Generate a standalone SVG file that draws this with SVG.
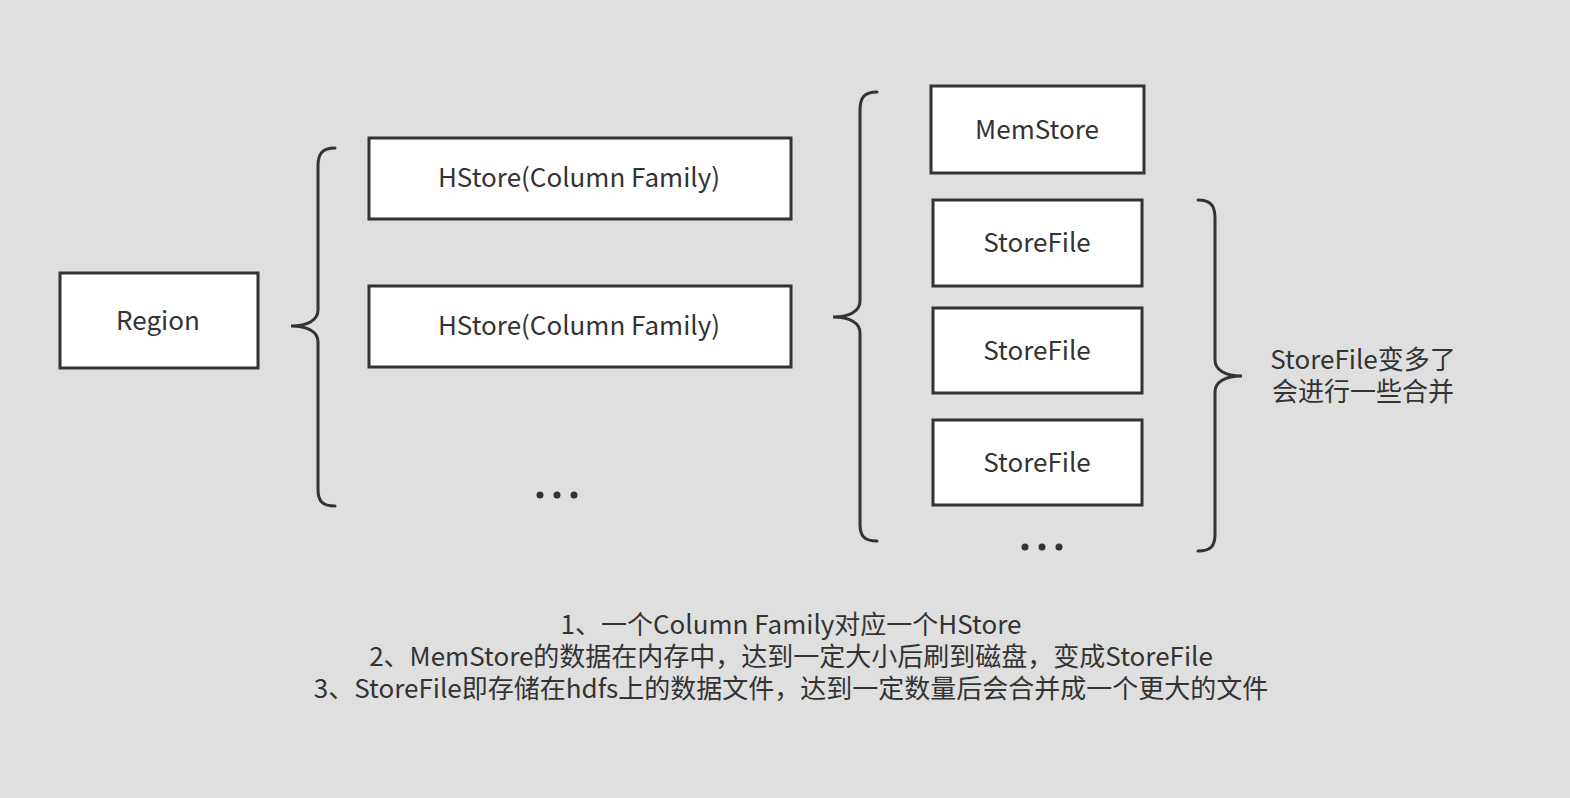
<svg xmlns="http://www.w3.org/2000/svg" width="1570" height="798" viewBox="0 0 1570 798">
<style>
.box{fill:#fff;stroke:#333;stroke-width:3}
.br{fill:none;stroke:#333;stroke-width:3;stroke-linecap:round}
text{font-family:"Noto Sans CJK SC","Noto Sans",sans-serif;fill:#333;font-size:26px;text-anchor:middle}
.dot{fill:#333}
</style>
<rect width="1570" height="798" fill="#dfdfdf"/>
<g id="region"><rect class="box" x="60" y="273" width="198" height="95"/><text x="158" y="330">Region</text></g>
<g id="hstore1"><rect class="box" x="369" y="138" width="422" height="81"/><text x="579" y="187">HStore(Column Family)</text></g>
<g id="hstore2"><rect class="box" x="369" y="286" width="422" height="81"/><text x="579" y="335">HStore(Column Family)</text></g>
<g id="dots1"><circle class="dot" cx="540" cy="495" r="3.5"/><circle class="dot" cx="557" cy="495" r="3.5"/><circle class="dot" cx="574" cy="495" r="3.5"/></g>
<g id="memstore"><rect class="box" x="931" y="86" width="213" height="87"/><text x="1037" y="139">MemStore</text></g>
<g id="storefile1"><rect class="box" x="933" y="200" width="209" height="86"/><text x="1037" y="252">StoreFile</text></g>
<g id="storefile2"><rect class="box" x="933" y="308" width="209" height="85"/><text x="1037" y="360">StoreFile</text></g>
<g id="storefile3"><rect class="box" x="933" y="420" width="209" height="85"/><text x="1037" y="472">StoreFile</text></g>
<g id="dots2"><circle class="dot" cx="1025" cy="547" r="3.5"/><circle class="dot" cx="1042" cy="547" r="3.5"/><circle class="dot" cx="1059" cy="547" r="3.5"/></g>
<g id="connectors">
<path class="br" d="M335,148 C322,148 318,154 318,166 L318,310 C318,320 308,326 291,326 C308,326 318,332 318,342 L318,489 C318,501 322,506 335,506"/>
<path class="br" d="M877,92 C864,92 860,98 860,110 L860,301 C860,311 850,317 833,317 C850,317 860,323 860,333 L860,524 C860,536 864,541 877,541"/>
<path class="br" d="M1198,200 C1211,200 1215,206 1215,218 L1215,360 C1215,370 1225,376 1242,376 C1225,376 1215,382 1215,392 L1215,534 C1215,546 1211,551 1198,551"/>
</g>
<g id="note-merge"><text x="1363" y="369">StoreFile变多了</text><text x="1363" y="401">会进行一些合并</text></g>
<g id="notes">
<text x="791" y="634">1、一个Column Family对应一个HStore</text>
<text x="791" y="666">2、MemStore的数据在内存中，达到一定大小后刷到磁盘，变成StoreFile</text>
<text x="791" y="698">3、StoreFile即存储在hdfs上的数据文件，达到一定数量后会合并成一个更大的文件</text>
</g>
</svg>
